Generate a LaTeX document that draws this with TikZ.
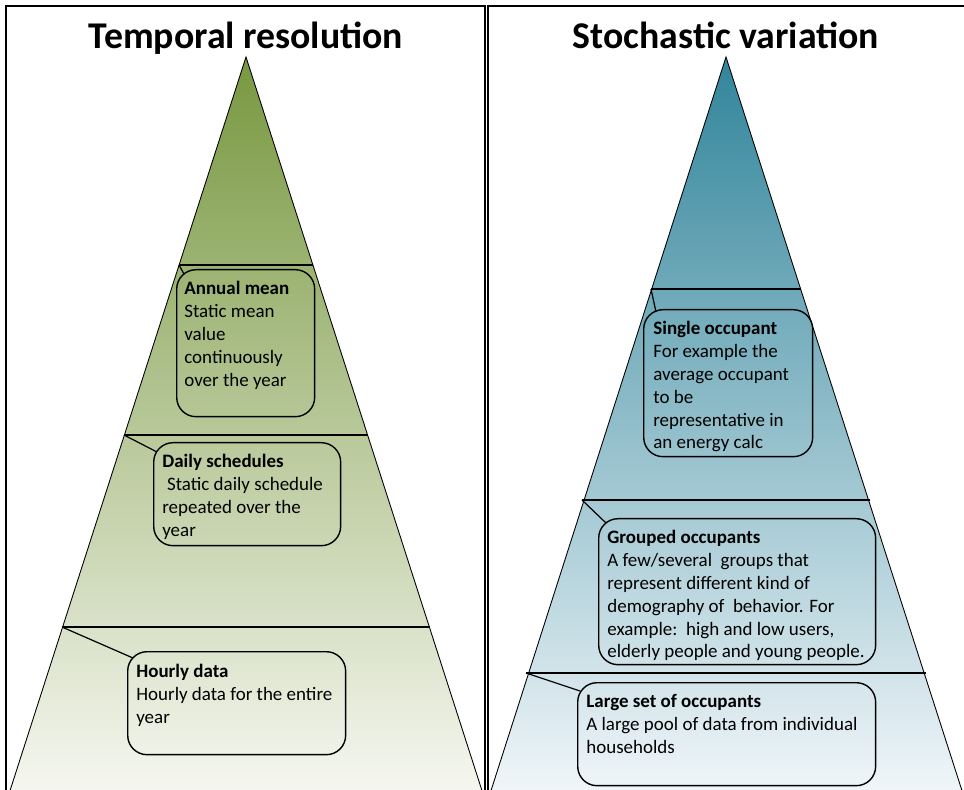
\documentclass[tikz,border=0pt]{standalone}
\usepackage{fontspec}
\setmainfont{Carlito}
\usetikzlibrary{positioning, calc}

\definecolor{olivetop}{RGB}{120,152,64}
\definecolor{olivebot}{RGB}{247,248,242}
\definecolor{tealtop}{RGB}{50,133,155}
\definecolor{tealbot}{RGB}{242,247,250}

\tikzset{
	tier/.style={draw, line width=0.8pt, rounded corners=11pt, anchor=north west, inner sep=0pt},
	tiertext/.style={anchor=north west, align=left, inner sep=0pt, font=\fontsize{10.8}{13}\selectfont},
	heading/.style={anchor=base, font=\fontsize{21.5}{24}\selectfont\bfseries},
	level/.style={line width=0.8pt},
	link/.style={line width=0.7pt}
}

\begin{document}
\begin{tikzpicture}[x=0.02cm, y=-0.02cm]
		\useasboundingbox (0, 0) rectangle (964, 790);
		% panels
		\draw[line width=0.7pt] (6, 6) rectangle (485, 800);
		\draw[line width=0.7pt] (488, 6) rectangle (975, 800);
		\node[heading] (tres) at (246, 49) {Temporal resolution};
		\node[heading] (svar) at (726, 49) {Stochastic variation};

		% left pyramid
		\shade[top color=olivetop, bottom color=olivebot] (246, 57) -- (7, 800) -- (485, 800) -- cycle;
		\draw[line width=0.5pt] (7, 800) -- (246, 57) -- (485, 800);
		\coordinate (l1) at (179, 265); \coordinate (r1) at (313, 265);
		\coordinate (l2) at (124, 435); \coordinate (r2) at (368, 435);
		\coordinate (l3) at (62, 627);  \coordinate (r3) at (430, 627);
		\draw[level] (l1) -- (r1);
		\draw[level] (l2) -- (r2);
		\draw[level] (l3) -- (r3);

		\node[tier, minimum width=2.76cm, minimum height=2.94cm] (amean) at (176, 269) {};
		\node[tiertext] (ameantxt) at (184, 281) {\textbf{Annual mean}\\Static mean\\value\\continuously\\over the year};
		\draw[link] (l1) -- ($(amean.north west) + (8, 5)$);

		\node[tier, minimum width=3.74cm, minimum height=2.06cm] (daily) at (153, 442) {};
		\node[tiertext] (dailytxt) at (162, 454) {\textbf{Daily schedules}\\\hspace{0.25em}Static daily schedule\\repeated over the\\year};
		\draw[link] (l2) -- ($(daily.north west) + (4, 10)$);

		\node[tier, minimum width=4.36cm, minimum height=2.06cm] (hourly) at (127, 651) {};
		\node[tiertext] (hourlytxt) at (136, 664) {\textbf{Hourly data}\\Hourly data for the entire\\year};
		\draw[link] (l3) -- ($(hourly.north west) + (6, 7)$);

		% right pyramid
		\shade[top color=tealtop, bottom color=tealbot] (726, 57) -- (488, 800) -- (965, 800) -- cycle;
		\draw[line width=0.5pt] (488, 800) -- (726, 57) -- (965, 800);
		\coordinate (l4) at (651, 289); \coordinate (r4) at (801, 289);
		\coordinate (l5) at (582, 500); \coordinate (r5) at (870, 500);
		\coordinate (l6) at (526, 673); \coordinate (r6) at (926, 673);
		\draw[level] (l4) -- (r4);
		\draw[level] (l5) -- (r5);
		\draw[level] (l6) -- (r6);

		\node[tier, minimum width=3.38cm, minimum height=2.94cm] (single) at (643, 309) {};
		\node[tiertext] (singletxt) at (653, 321) {\textbf{Single occupant}\\For example the\\average occupant\\to be\\representative in\\an energy calc};
		\draw[link] (l4) -- ($(single.north west) + (13, 3)$);

		\node[tier, minimum width=5.54cm, minimum height=2.92cm] (grouped) at (598, 518) {};
		\node[tiertext] (groupedtxt) at (607, 530) {\textbf{Grouped occupants}\\A few/several\ \ groups that\\represent different kind of\\demography of\ \ behavior. For\\example:\ \ high and low users,\\elderly people and young people.};
		\draw[link] (l5) -- ($(grouped.north west) + (8, 5)$);

		\node[tier, minimum width=5.96cm, minimum height=2.06cm] (large) at (577, 682) {};
		\node[tiertext] (largetxt) at (586, 694) {\textbf{Large set of occupants}\\A large pool of data from individual\\households};
		\draw[link] (l6) -- ($(large.north west) + (3, 9)$);
	\end{tikzpicture}
\end{document}
